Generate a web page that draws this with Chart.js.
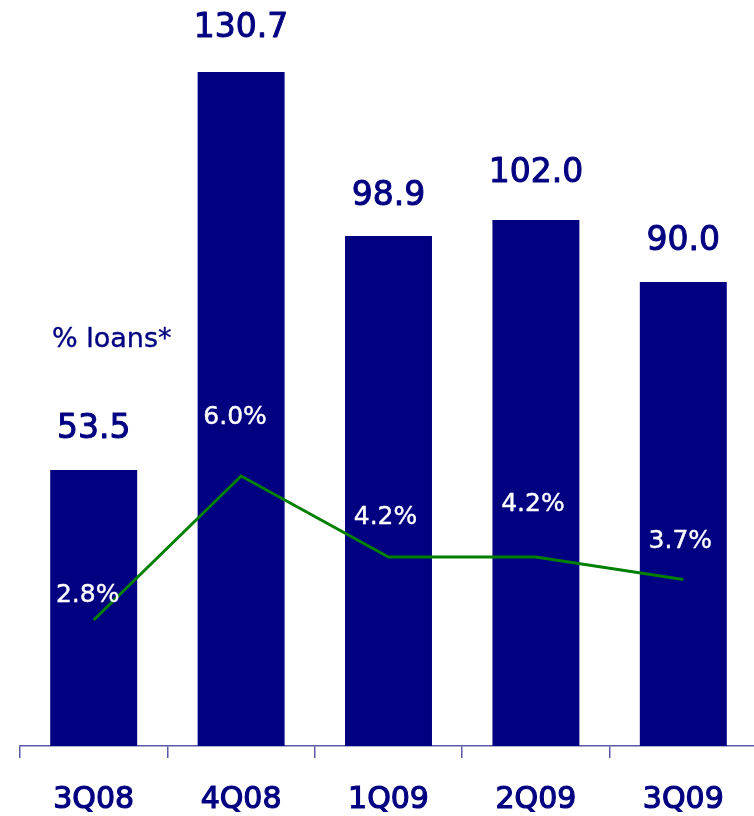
<!DOCTYPE html>
<html>
<head>
<meta charset="utf-8">
<script src="https://cdn.jsdelivr.net/npm/chart.js@4"></script>
<style>
  html, body { margin: 0; padding: 0; background: #fff; overflow: hidden; }
  #wrap { width: 760px; height: 842px; }
</style>
</head>
<body>
<div id="wrap"><canvas id="chart" width="760" height="842"></canvas></div>
<script>
// quarterly values
const quarters = ['3Q08', '4Q08', '1Q09', '2Q09', '3Q09'];
const provisions = [53.5, 130.7, 98.9, 102.0, 90.0];
const pctLoans = [2.8, 6.0, 4.2, 4.2, 3.7];
const provisionLabels = ['53.5', '130.7', '98.9', '102.0', '90.0'];
const pctLabels = ['2.8%', '6.0%', '4.2%', '4.2%', '3.7%'];

const NAVY = '#000080';
const GREEN = '#008000';
const AXIS = '#5a5aa8';
const FONT = '"DejaVu Sans", Verdana, sans-serif';

// fill + thin stroke, the slide font is a bit heavier than DejaVu regular
function heavyText(ctx, text, x, y, color, w) {
  ctx.fillStyle = color;
  ctx.strokeStyle = color;
  ctx.lineWidth = w;
  ctx.lineJoin = 'round';
  ctx.strokeText(text, x, y);
  ctx.fillText(text, x, y);
}

// text drawn over the bars and line
const labelPlugin = {
  id: 'slideLabels',
  afterDatasetsDraw(chart, args, opts) {
    const ctx = chart.ctx;
    const bars = chart.getDatasetMeta(0).data;
    const pts = chart.getDatasetMeta(1).data;
    ctx.save();
    ctx.textAlign = 'center';
    ctx.textBaseline = 'alphabetic';

    ctx.font = '33px ' + FONT;
    bars.forEach((bar, i) => {
      const cy = bar.y - opts.valueLift[i];
      heavyText(ctx, provisionLabels[i], bar.x, cy + 33 * 0.729 / 2, NAVY, 1);
    });

    ctx.font = '25px ' + FONT;
    pts.forEach((pt, i) => {
      const cy = pt.y - opts.pctLift[i];
      heavyText(ctx, pctLabels[i], pt.x + opts.pctShift[i], cy + 25 * 0.729 / 2, '#ffffff', 0.4);
    });

    ctx.font = '27px ' + FONT;
    ctx.textAlign = 'left';
    heavyText(ctx, '% loans*', chart.chartArea.left + 32, 347, NAVY, 0.4);
    ctx.restore();
  }
};

new Chart(document.getElementById('chart'), {
  type: 'bar',
  data: {
    labels: quarters,
    datasets: [
      {
        type: 'bar',
        data: provisions,
        backgroundColor: NAVY,
        borderWidth: 0,
        categoryPercentage: 1,
        barPercentage: 0.59,
        yAxisID: 'y',
        order: 2
      },
      {
        type: 'line',
        data: pctLoans,
        borderColor: GREEN,
        borderWidth: 3,
        pointRadius: 0,
        tension: 0,
        fill: false,
        yAxisID: 'y2',
        order: 1
      }
    ]
  },
  options: {
    responsive: false,
    animation: false,
    layout: { padding: { left: 20, right: 3, top: 0, bottom: 0 } },
    scales: {
      x: {
        offset: true,
        border: { display: true, color: AXIS, width: 1.5 },
        grid: {
          display: true,
          offset: true,
          drawOnChartArea: false,
          drawTicks: true,
          tickLength: 12,
          color: AXIS,
          lineWidth: 1.5
        },
        ticks: {
          color: NAVY,
          font: { family: FONT, size: 30 },
          padding: 24,
          textStrokeColor: NAVY,
          textStrokeWidth: 1.2
        }
      },
      y: { display: false, min: 0, max: 144.66 },
      y2: { display: false, min: 0, max: 16.58, position: 'right' }
    },
    plugins: {
      legend: { display: false },
      tooltip: { enabled: false },
      slideLabels: {
        valueLift: [44, 47.5, 43.5, 50.5, 44],
        pctLift: [27.5, 61.5, 42, 55, 41],
        pctShift: [-6, -6, -3, -3, -3]
      }
    }
  },
  plugins: [labelPlugin]
});
</script>
</body>
</html>
